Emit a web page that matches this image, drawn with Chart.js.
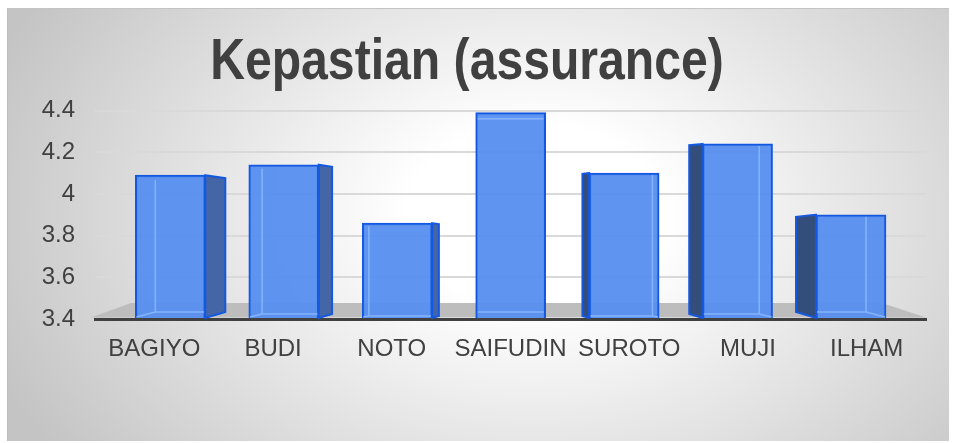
<!DOCTYPE html>
<html>
<head>
<meta charset="utf-8">
<script src="https://cdn.jsdelivr.net/npm/chart.js@4.4.1/dist/chart.umd.min.js"></script>
<style>
  html, body { margin: 0; padding: 0; background: #ffffff; }
  #box {
    position: absolute; left: 7px; top: 8px; width: 942px; height: 433px;
    box-sizing: border-box; border-left: 1px solid #bdbdbd; border-top: 1px solid #c4c4c4;
    background: radial-gradient(ellipse 62% 95% at 56% 48%, #ffffff 0%, #ffffff 22%, #c4c4c4 100%);
  }
  canvas { position: absolute; left: 0; top: 0; }
</style>
</head>
<body>
<div id="box"><canvas id="c" width="942" height="433"></canvas></div>
<script>
const chartTitle = 'Kepastian (assurance)';
const categories = ['BAGIYO', 'BUDI', 'NOTO', 'SAIFUDIN', 'SUROTO', 'MUJI', 'ILHAM'];
const values = [4.09, 4.14, 3.86, 4.39, 4.10, 4.24, 3.90];
const yTicks = [3.4, 3.6, 3.8, 4.0, 4.2, 4.4];
const yTickLabels = ['3.4', '3.6', '3.8', '4', '4.2', '4.4'];

const points = values.map((v, i) => ({ x: i, y: v }));

const threeD = {
  id: 'threeD',
  beforeDraw(chart) {
    const tb = chart.titleBlock;
    if (tb && !tb._narrowed) {
      const orig = tb.draw;
      tb.draw = function () {
        const ctx = this.ctx;
        const cx = (this.left + this.right) / 2;
        ctx.save();
        ctx.translate(cx, 0);
        ctx.scale(0.83, 1);
        ctx.translate(-cx, 0);
        orig.apply(this, arguments);
        ctx.restore();
      };
      tb._narrowed = true;
    }
  },
  beforeDatasetsDraw(chart) {
    const { ctx, chartArea: a } = chart;
    ctx.save();
    ctx.fillStyle = '#bdbdbd';
    ctx.beginPath();
    ctx.moveTo(a.left + 36, a.bottom - 16);
    ctx.lineTo(a.right - 44, a.bottom - 16);
    ctx.lineTo(a.right, a.bottom - 1.5);
    ctx.lineTo(a.left - 4, a.bottom - 1.5);
    ctx.closePath();
    ctx.fill();
    ctx.restore();
  },
  afterDatasetsDraw(chart) {
    const { ctx, chartArea: a } = chart;
    const meta = chart.getDatasetMeta(0);
    const cx = (a.left + a.right) / 2;
    ctx.save();
    meta.data.forEach(bar => {
      const p = bar.getProps(['x', 'y', 'base', 'width'], true);
      const L = p.x - p.width / 2, R = p.x + p.width / 2;
      const top = p.y, bot = Math.min(p.base, a.bottom);
      const off = (cx - p.x) * 0.0587;
      const d = Math.abs(off);
      ctx.strokeStyle = 'rgba(140,185,255,0.85)';
      ctx.lineWidth = 1.5;
      ctx.beginPath();
      if (off > 1) {
        ctx.moveTo(L + d, top + 0.15 * d + 2); ctx.lineTo(L + d, bot - 0.3 * d);
        ctx.lineTo(R - 1, bot - 0.3 * d);
        ctx.moveTo(L + 1, bot - 1); ctx.lineTo(L + d, bot - 0.3 * d);
      } else if (off < -1) {
        ctx.moveTo(R - d, top + 2); ctx.lineTo(R - d, bot - 0.3 * d);
        ctx.lineTo(L + 1, bot - 0.3 * d);
        ctx.moveTo(R - 1, bot - 1); ctx.lineTo(R - d, bot - 0.3 * d);
      } else {
        ctx.moveTo(L + 2, top + 6); ctx.lineTo(R - 2, top + 6);
        ctx.moveTo(L + 2, bot - 6); ctx.lineTo(R - 2, bot - 6);
      }
      ctx.stroke();
      if (d < 1.5) return;
      ctx.beginPath();
      if (off > 0) {
        ctx.moveTo(R, top); ctx.lineTo(R + d, top + 0.15 * d);
        ctx.lineTo(R + d, bot - 0.3 * d); ctx.lineTo(R, bot);
        ctx.fillStyle = '#4566a6';
      } else {
        ctx.moveTo(L, top); ctx.lineTo(L - d, top + 0.1 * d);
        ctx.lineTo(L - d, bot - 0.3 * d); ctx.lineTo(L, bot);
        ctx.fillStyle = '#344e7c';
      }
      ctx.closePath();
      ctx.fill();
      ctx.strokeStyle = '#1558e0';
      ctx.lineWidth = 2;
      ctx.stroke();
    });
    ctx.restore();
  }
};

new Chart(document.getElementById('c'), {
  type: 'bar',
  data: {
    labels: categories,
    datasets: [{
      data: points,
      xAxisID: 'xb',
      base: yTicks[0],
      backgroundColor: 'rgba(86,143,240,0.95)',
      borderColor: '#1558e0',
      borderWidth: 2,
      barThickness: 70
    }]
  },
  options: {
    responsive: false,
    animation: false,
    layout: { padding: { left: 0, right: 24, top: 0, bottom: 0 } },
    plugins: {
      legend: { display: false },
      tooltip: { enabled: false },
      title: {
        display: true,
        text: chartTitle,
        color: '#404040',
        font: { family: "'Liberation Sans', Arial, sans-serif", size: 58, weight: 'bold' },
        padding: { top: 19, bottom: 13 }
      }
    },
    scales: {
      x: {
        type: 'category',
        position: 'bottom',
        grid: { display: false },
        border: { display: true, color: '#404040', width: 3 },
        ticks: {
          color: '#404040',
          padding: 8,
          font: { family: "'Liberation Sans', Arial, sans-serif", size: 24 }
        },
        afterFit(s) { s.height = 123; }
      },
      xb: {
        type: 'linear',
        display: false,
        offset: false,
        grid: { offset: false },
        min: -0.664,
        max: 6.661
      },
      y: {
        min: 3.4,
        max: 4.4,
        afterBuildTicks(s) { s.ticks = yTicks.map(v => ({ value: v })); },
        grid: { color: '#d9d9d9', lineWidth: 2, drawTicks: false },
        border: { display: false },
        ticks: {
          color: '#404040',
          padding: 20,
          font: { family: "'Liberation Sans', Arial, sans-serif", size: 24 },
          callback(v, i) { return yTickLabels[i]; }
        },
        afterFit(s) { s.width = 87; }
      }
    }
  },
  plugins: [threeD]
});
</script>
</body>
</html>
